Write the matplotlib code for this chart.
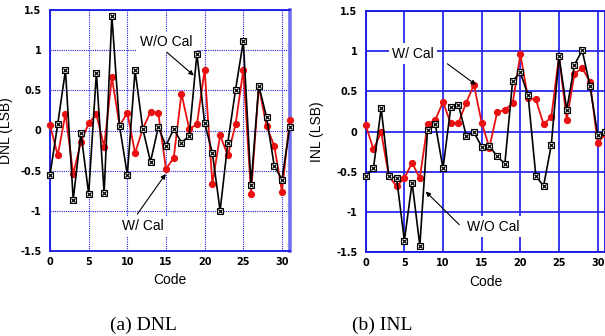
import matplotlib
matplotlib.use("Agg")
import matplotlib.pyplot as plt
import numpy as np

codes = list(range(32))

dnl_wo_cal = [-0.55, 0.08, 0.75, -0.86, -0.03, -0.79, 0.72, -0.78, 1.43, 0.05,
              -0.55, 0.75, 0.02, -0.39, 0.04, -0.19, 0.02, -0.15, -0.07, 0.955,
              0.09, -0.28, -1.00, -0.15, 0.51, 1.11, -0.68, 0.56, 0.17, -0.44,
              -0.61, 0.04]
dnl_w_cal = [0.07, -0.31, 0.21, -0.54, -0.145, 0.09, 0.20, -0.20, 0.66, 0.06,
             0.22, -0.28, 0.02, 0.23, 0.22, -0.48, -0.34, 0.46, 0.02, 0.075,
             0.756, -0.66, -0.06, -0.31, 0.075, 0.756, -0.79, 0.55, 0.054, -0.19,
             -0.76, 0.13]

inl_wo_cal = [-0.55, -0.46, 0.29, -0.56, -0.58, -1.36, -0.635, -1.42, 0.02, 0.09,
              -0.46, 0.30, 0.33, -0.05, -0.01, -0.19, -0.18, -0.31, -0.40, 0.63,
              0.735, 0.45, -0.55, -0.68, -0.17, 0.934, 0.27, 0.83, 1.01, 0.57,
              -0.04, 0.0]
inl_w_cal = [0.08, -0.22, -0.01, -0.56, -0.68, -0.58, -0.39, -0.58, 0.09, 0.146,
             0.366, 0.10, 0.11, 0.36, 0.58, 0.11, -0.20, 0.24, 0.27, 0.35,
             0.96, 0.415, 0.40, 0.09, 0.18, 0.94, 0.146, 0.72, 0.79, 0.62,
             -0.14, -0.03]

xticks = [0, 5, 10, 15, 20, 25, 30]
yticks = [-1.5, -1, -0.5, 0, 0.5, 1, 1.5]
ytick_labels = ["-1.5", "-1", "-0.5", "0", "0.5", "1", "1.5"]

fig = plt.figure(figsize=(6.05, 3.36), dpi=100)
ax1 = fig.add_axes([50/605, 85/336, 239.7/605, 241/336])
ax2 = fig.add_axes([365.7/605, 84/336, 239.7/605, 241/336])

sans = "Liberation Sans"
tickfont = dict(family="DejaVu Sans", weight="bold", size=7)

def style(ax, ylabel, dotted, ylabelpad):
    ax.set_xlim(0, 31)
    ax.set_ylim(-1.5, 1.5)
    ax.set_xticks(xticks)
    ax.set_yticks(yticks)
    ax.set_xticklabels([str(t) for t in xticks], fontdict=tickfont)
    ax.set_yticklabels(ytick_labels, fontdict=tickfont)
    ax.tick_params(length=0, pad=4)
    ax.tick_params(axis="y", pad=6)
    if dotted:
        ax.grid(True, color="#2020e0", linestyle=(0, (1, 1)), linewidth=0.8)
    else:
        ax.grid(True, color="#2a2aee", linestyle="-", linewidth=1.3)
    ax.set_axisbelow(True)
    for s in ax.spines.values():
        s.set_color("#1515e0")
        s.set_linewidth(1.3)
    ax.set_xlabel("Code", family=sans, fontsize=10, labelpad=5)
    ax.set_ylabel(ylabel, family=sans, fontsize=10, labelpad=ylabelpad)

def draw(ax, wo, w):
    ax.plot(codes, w, color="#e81010", lw=1.3, marker="o", ms=4.2,
            mfc="#e81010", mec="#e81010", zorder=3, clip_on=False)
    ax.plot(codes, wo, color="black", lw=1.2, marker="s", ms=4.2,
            mfc="white", mec="black", mew=0.8, zorder=4, clip_on=False)
    ax.plot(codes, wo, linestyle="none", marker="x", ms=3.0,
            color="black", mew=0.9, zorder=5, clip_on=False)

style(ax1, "DNL (LSB)", True, 5)
style(ax2, "INL (LSB)", False, 9)
ax1.spines["right"].set_color("#7070f0")
ax1.spines["right"].set_linewidth(2.6)

draw(ax1, dnl_wo_cal, dnl_w_cal)
draw(ax2, inl_wo_cal, inl_w_cal)

arrow = dict(arrowstyle="-|>", lw=0.8, color="black", mutation_scale=7,
             shrinkA=0, shrinkB=0)
box = dict(facecolor="white", edgecolor="none", pad=2.5)

ax1.annotate("", xy=(18.6, 0.685), xytext=(15.1, 0.975), arrowprops=arrow, zorder=6)
ax1.text(15.0, 1.10, "W/O Cal", family=sans, fontsize=10, ha="center",
         va="center", bbox=box, zorder=2)
ax1.annotate("", xy=(14.97, -0.54), xytext=(11.3, -1.04), arrowprops=arrow, zorder=6)
ax1.text(11.97, -1.195, "W/ Cal", family=sans, fontsize=10, ha="center",
         va="center", bbox=box, zorder=2)

ax2.annotate("", xy=(14.27, 0.58), xytext=(10.56, 0.843), arrowprops=arrow, zorder=6)
ax2.text(6.12, 0.968, "W/ Cal", family=sans, fontsize=10, ha="center",
         va="center", bbox=box, zorder=2)
ax2.annotate("", xy=(7.76, -0.747), xytext=(12.1, -1.16), arrowprops=arrow, zorder=6)
ax2.text(16.47, -1.187, "W/O Cal", family=sans, fontsize=10, ha="center",
         va="center", bbox=box, zorder=2)

fig.text(143.5/605, 1 - 325/336, "(a) DNL", family="Liberation Serif",
         fontsize=14, ha="center", va="center")
fig.text(382.5/605, 1 - 325/336, "(b) INL", family="Liberation Serif",
         fontsize=14, ha="center", va="center")

fig.savefig("out.png", dpi=100)
